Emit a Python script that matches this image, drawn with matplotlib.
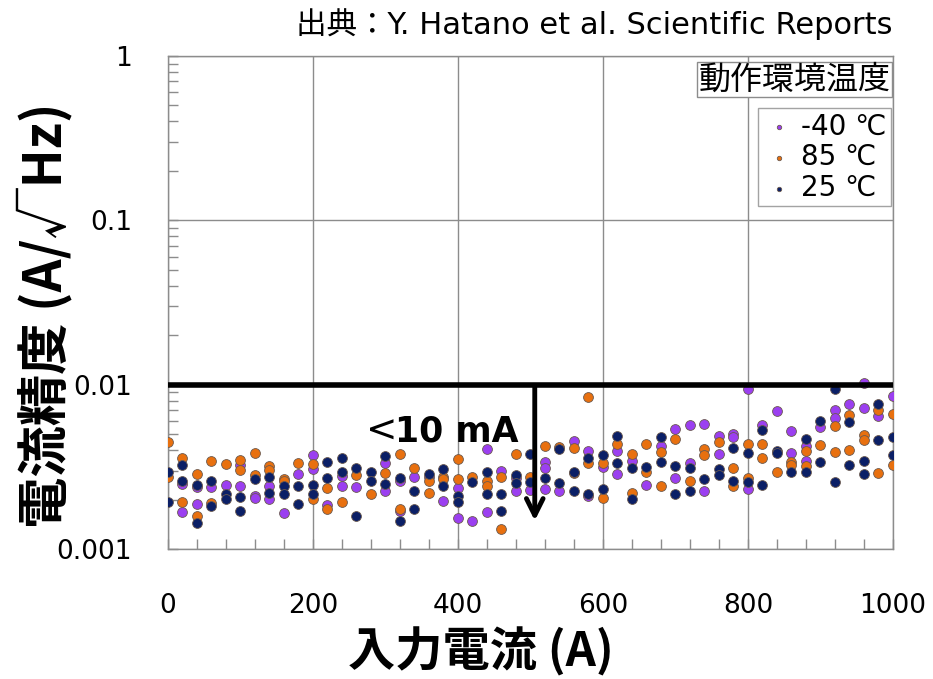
import numpy as np
import matplotlib
matplotlib.use("Agg")
import matplotlib.pyplot as plt
from matplotlib.ticker import MultipleLocator, LogLocator, NullFormatter, FixedLocator

plt.rcParams['font.family'] = ['Noto Sans CJK JP', 'DejaVu Sans']
LATIN = ['DejaVu Sans', 'Noto Sans CJK JP']

# input current (A), one column of points every 20 A
currents = list(range(0, 1001, 20))

# current precision in mA/sqrt(Hz), several points per current
vals_m40 = [[], [2.48, 1.69], [2.38, 1.89], [2.37], [2.44], [3.25, 2.40], [2.09, 2.05],
            [2.40, 2.02], [1.65], [2.86], [3.73, 3.06], [1.86], [2.78, 2.40], [2.37], [],
            [3.32, 2.26], [2.59, 1.70], [2.76], [2.76], [1.96], [2.35, 1.54], [1.47],
            [4.06, 1.67], [2.99], [2.69, 2.26], [2.29], [3.37, 3.13, 2.31], [2.24], [4.55],
            [3.95, 2.09], [3.14], [3.96, 2.86], [3.45], [2.46], [4.25], [5.35, 2.69],
            [5.70, 3.32], [5.75, 2.26], [4.90, 3.78], [5.00, 4.77], [9.42, 2.32], [5.70],
            [6.91], [5.25, 3.82], [4.25, 3.43], [5.56], [7.01, 6.25], [7.60], [10.2, 7.18],
            [6.45], [8.54]]
vals_85 = [[4.48, 2.76], [3.60, 1.94], [2.85, 1.59], [3.45, 1.91], [3.29], [3.47, 3.03],
           [3.82, 2.82], [3.22, 3.03], [2.67, 2.58], [3.35], [3.28, 2.02], [2.35, 1.75],
           [1.94], [2.80], [2.16], [2.89], [3.78, 1.76], [3.13], [2.59, 2.18], [2.76, 2.67],
           [3.53, 2.66], [2.76], [2.59, 2.40], [2.73, 1.33], [3.78], [2.76], [4.22], [4.18],
           [4.10, 2.90], [8.42, 3.35], [3.35, 2.05], [4.34], [3.78, 2.18], [4.34, 2.95],
           [3.88, 2.42], [4.66], [2.59], [4.06, 3.73], [4.46], [3.13, 2.42], [4.36, 2.72],
           [4.36, 3.58], [2.95], [3.40, 3.25], [3.96, 3.22], [4.30], [5.62, 3.88],
           [6.58, 4.00], [4.95, 4.61], [7.01, 2.92], [6.63, 3.25]]
vals_25 = [[2.94, 1.92], [3.25, 2.59], [2.46, 1.43], [2.58, 1.83], [2.15, 2.02], [2.08, 1.70],
           [2.66], [2.73, 2.19], [2.40, 2.15], [2.42, 1.87], [2.46, 2.15], [3.37, 2.69],
           [3.58, 2.95], [3.13, 1.58], [2.95, 2.60], [3.68, 2.48], [2.72, 1.47], [2.26, 1.76],
           [2.86], [3.06, 2.40], [2.10, 1.92], [2.55], [2.95, 2.16], [2.16, 1.70], [2.82, 2.51],
           [3.78, 2.55], [2.69], [4.06, 2.51], [2.95, 2.24], [3.58, 2.15], [3.73, 2.31],
           [4.88, 3.35], [3.13, 2.02], [3.17], [4.80, 3.40], [3.20, 2.16], [3.11, 2.26], [2.67],
           [3.06, 2.82], [4.10, 2.59], [3.85, 2.55], [5.30, 2.44], [3.95, 3.82], [2.95],
           [4.69, 2.93], [6.04, 3.40], [9.42, 2.55], [5.91, 3.25], [3.43, 2.86], [7.60, 4.61],
           [4.80, 3.73]]

limit = 0.01      # 10 mA spec line
arrow_x = 506
arrow_end = 0.00143


def flatten(vals):
    xs, ys = [], []
    for c, v in zip(currents, vals):
        for y in v:
            xs.append(c)
            ys.append(y * 1e-3)
    return xs, ys


fig = plt.figure(figsize=(9.33, 6.79), dpi=100)
ax = fig.add_axes([0.180, 0.1915, 0.777, 0.726])

series = [(vals_m40, '#9b3ff0', '-40 ℃'),
          (vals_85, '#e8700f', '85 ℃'),
          (vals_25, '#0b1f66', '25 ℃')]
for vals, col, lab in series:
    xs, ys = flatten(vals)
    ax.scatter(xs, ys, s=50, c=col, edgecolors='#6b5a50', linewidths=0.6, label=lab, zorder=3)

ax.set_yscale('log')
ax.set_xlim(0, 1000)
ax.set_ylim(0.001, 1)

ax.grid(True, which='major', color='#8c8c8c', lw=1)
for s in ax.spines.values():
    s.set_color('#8c8c8c')
    s.set_linewidth(1)

ax.xaxis.set_major_locator(MultipleLocator(200))
ax.xaxis.set_minor_locator(MultipleLocator(40))
ax.yaxis.set_major_locator(FixedLocator([0.001, 0.01, 0.1, 1]))
ax.yaxis.set_minor_locator(LogLocator(base=10, subs=np.arange(2, 10)))
ax.yaxis.set_minor_formatter(NullFormatter())
ax.set_yticklabels(['0.001', '0.01', '0.1', '1'])
ax.tick_params(which='both', direction='in', length=7, color='#8c8c8c', width=1)
ax.tick_params(axis='x', which='major', pad=32, labelsize=19, labelfontfamily='DejaVu Sans')
ax.tick_params(axis='y', which='major', pad=26, labelsize=19, labelfontfamily='DejaVu Sans')

# 10 mA limit line and arrow
ax.axhline(limit, color='black', lw=4, zorder=4)
ax.annotate('', xy=(arrow_x, arrow_end), xytext=(arrow_x, limit),
            arrowprops=dict(arrowstyle='->', color='black', lw=3.5, mutation_scale=30), zorder=5)
ax.text(483, 0.0052, '10 mA', fontsize=25, fontweight='bold', ha='right', va='center',
        family='DejaVu Sans', zorder=6)
ax.text(316, 0.0052, '<', fontsize=27, ha='right', va='center', family='DejaVu Sans', zorder=6)

leg = ax.legend(loc='upper right', bbox_to_anchor=(0.997, 0.894), frameon=True,
                prop={'family': LATIN, 'size': 20},
                fancybox=False, edgecolor='#8c8c8c', markerscale=0.45, handletextpad=0.2,
                borderpad=0.15, labelspacing=0.1, handlelength=1.2, borderaxespad=0)
leg.get_frame().set_linewidth(1)
ax.text(0.997, 0.985, '動作環境温度', transform=ax.transAxes, fontsize=23, ha='right', va='top',
        bbox=dict(boxstyle='square,pad=0.05', fc='white', ec='#8c8c8c', lw=1), zorder=7)

fig.text(0.957, 0.965, '出典：Y. Hatano et al. Scientific Reports', fontsize=22, ha='right',
         va='center', family=LATIN)
fig.text(0.515, 0.04, '入力電流 (A)', fontsize=34, fontweight='bold', ha='center', va='center')
fig.text(0.048, 0.536, '電流精度 (A/√Hz)', fontsize=37, fontweight='bold', ha='center', va='center',
         rotation=90)

fig.savefig('out.png', dpi=100)
